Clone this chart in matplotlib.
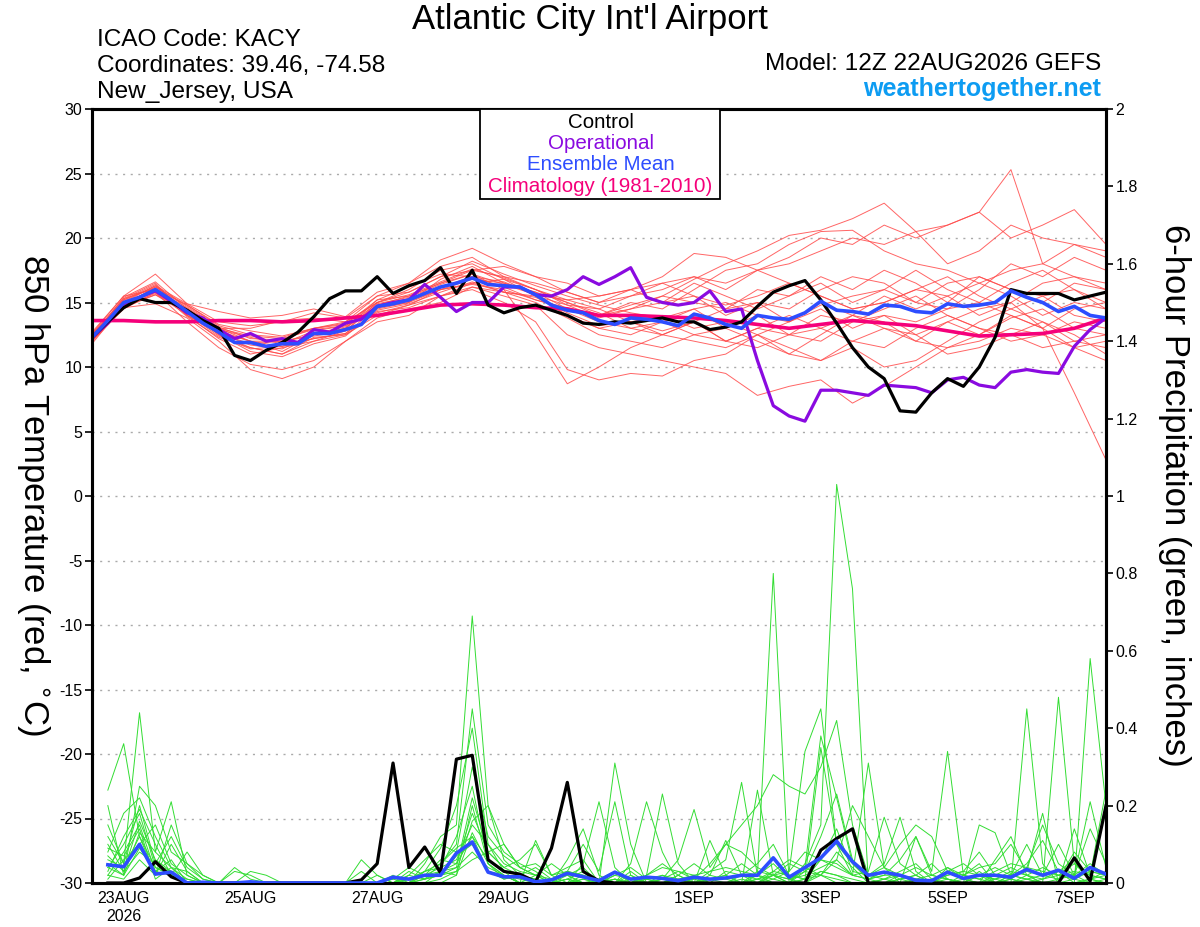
import numpy as np
import matplotlib
matplotlib.use("Agg")
from matplotlib import pyplot as plt
from matplotlib.patches import Rectangle
from matplotlib.ticker import FuncFormatter

plt.rcParams["font.family"] = ["Liberation Sans", "DejaVu Sans"]
plt.rcParams["axes.unicode_minus"] = False

# forecast hours from 12Z 22AUG2026, every 6 h
hours = np.arange(65) * 6
precip_hours = hours[1:]
member_hours = hours[::2]

date_ticks = [12, 60, 108, 156, 228, 276, 324, 372]
date_labels = ["23AUG\n2026", "25AUG", "27AUG", "29AUG", "1SEP", "3SEP", "5SEP", "7SEP"]

# 850 hPa temperature (C)
control_t = [12.3, 13.5, 14.6, 15.3, 15.0, 15.0, 14.4, 13.6, 13.0, 10.9, 10.5, 11.3, 11.9,
             12.7, 13.9, 15.3, 15.9, 15.9, 17.0, 15.7, 16.3, 16.7, 17.7, 15.7, 17.5, 14.8,
             14.2, 14.6, 14.8, 14.4, 14.0, 13.4, 13.3, 13.5, 13.4, 13.6, 13.8, 13.5, 13.5,
             12.9, 13.1, 13.5, 14.7, 15.8, 16.3, 16.7, 15.2, 13.4, 11.5, 10.0, 9.1, 6.6,
             6.5, 8.0, 9.1, 8.5, 10.0, 12.3, 16.0, 15.7, 15.7, 15.7, 15.2, 15.5, 15.8]
oper_t = [12.3, 13.4, 14.9, 15.4, 15.9, 15.1, 14.2, 13.8, 12.9, 12.2, 12.6, 12.0, 12.2,
          11.9, 12.9, 12.7, 13.4, 13.7, 14.7, 15.0, 15.2, 16.4, 15.4, 14.3, 15.0, 15.0,
          16.2, 16.2, 15.6, 15.5, 16.0, 17.0, 16.4, 17.0, 17.7, 15.4, 15.0, 14.8, 15.0,
          15.9, 14.3, 14.5, 10.5, 7.0, 6.2, 5.8, 8.2, 8.2, 8.0, 7.8, 8.6, 8.5,
          8.4, 8.0, 9.0, 9.2, 8.6, 8.4, 9.6, 9.8, 9.6, 9.5, 11.6, 12.9, 13.8]
mean_t = [12.3, 13.6, 15.0, 15.4, 16.0, 15.2, 14.3, 13.4, 12.7, 11.9, 11.9, 11.6, 11.8,
          11.8, 12.6, 12.6, 12.9, 13.3, 14.7, 14.9, 15.2, 15.7, 16.2, 16.5, 16.9, 16.4,
          16.3, 16.2, 15.6, 14.8, 14.4, 14.2, 13.6, 13.3, 13.8, 13.7, 13.5, 13.2, 14.1,
          13.8, 13.3, 13.0, 14.0, 13.8, 13.7, 14.2, 15.1, 14.4, 14.3, 14.1, 14.8, 14.7,
          14.3, 14.2, 14.9, 14.7, 14.8, 15.0, 15.9, 15.4, 15.0, 14.3, 14.7, 14.0, 13.8]
# climatology every 12 h
clim_t = [13.6, 13.6, 13.5, 13.5, 13.6, 13.6, 13.5, 13.6, 13.8, 14.0, 14.4, 14.8, 14.9,
          14.8, 14.6, 14.5, 14.0, 14.0, 13.9, 13.8, 13.6, 13.3, 13.0, 13.3, 13.6, 13.4,
          13.2, 12.8, 12.4, 12.5, 12.6, 13.0, 13.8]

# ensemble members, every 12 h
members_t = [
    [12.0, 15.2, 16.4, 14.0, 12.2, 11.0, 11.5, 12.0, 12.8, 15.0, 16.0, 17.5, 18.0, 16.8, 16.0, 15.2, 14.5,
     15.5, 16.5, 17.0, 16.0, 17.5, 18.5, 20.0, 19.5, 21.0, 20.0, 21.0, 22.0, 25.3, 18.0, 19.5, 18.5],
    [12.5, 14.8, 16.2, 14.8, 13.2, 12.5, 12.3, 13.0, 13.5, 15.5, 16.5, 17.8, 18.5, 17.0, 16.0, 15.0, 14.0,
     14.5, 15.5, 16.8, 18.0, 19.0, 20.2, 20.6, 21.5, 22.7, 20.5, 18.0, 19.0, 21.0, 20.0, 19.5, 19.0],
    [12.2, 15.0, 15.8, 14.5, 12.5, 11.5, 11.0, 12.3, 12.5, 14.2, 14.8, 15.5, 16.5, 15.8, 15.5, 14.0, 13.0,
     13.5, 12.5, 13.5, 12.0, 13.0, 12.5, 14.0, 13.5, 14.0, 13.5, 14.5, 15.0, 14.0, 13.0, 8.0, 2.8],
    [12.0, 14.6, 14.9, 13.8, 12.0, 9.8, 9.1, 10.0, 12.0, 13.8, 14.5, 15.0, 16.2, 15.5, 14.8, 12.5, 11.5,
     11.0, 10.5, 10.0, 9.5, 7.8, 8.5, 9.0, 7.2, 8.5, 10.0, 11.5, 12.0, 13.0, 12.5, 11.5, 10.5],
    [12.4, 15.3, 16.5, 14.0, 12.8, 12.0, 11.2, 12.5, 13.0, 15.2, 15.5, 16.5, 17.2, 16.0, 12.5, 8.7, 10.0,
     11.5, 12.5, 13.5, 14.5, 15.0, 13.5, 14.8, 15.5, 16.0, 15.0, 16.5, 17.0, 16.0, 15.5, 14.0, 13.5],
    [12.6, 15.5, 16.0, 14.6, 13.0, 13.0, 13.6, 13.8, 13.5, 15.0, 15.8, 17.0, 17.5, 17.0, 16.5, 15.8, 15.0,
     15.5, 16.0, 17.0, 16.5, 17.5, 18.0, 19.0, 20.0, 19.5, 20.5, 21.0, 22.0, 20.0, 21.0, 22.2, 19.5],
    [12.1, 14.9, 16.0, 14.2, 12.6, 11.8, 12.0, 12.5, 13.0, 14.8, 15.5, 16.5, 17.5, 17.8, 17.0, 16.5, 15.5,
     16.0, 17.0, 18.8, 18.5, 17.5, 16.5, 15.5, 14.5, 15.0, 16.0, 15.5, 14.0, 15.0, 16.5, 17.0, 16.5],
    [12.3, 14.7, 15.6, 14.4, 12.9, 12.3, 11.8, 12.8, 13.2, 14.5, 15.0, 16.8, 17.8, 16.5, 15.8, 14.5, 14.0,
     15.0, 14.5, 16.0, 17.5, 18.0, 19.5, 20.5, 20.6, 19.0, 18.0, 17.5, 16.5, 17.5, 18.0, 17.0, 16.0],
    [12.0, 14.5, 15.8, 13.5, 11.5, 10.2, 9.8, 10.5, 12.0, 13.5, 14.0, 15.5, 16.0, 15.0, 13.5, 9.8, 9.0,
     9.5, 9.3, 10.5, 11.0, 12.5, 11.5, 10.5, 12.0, 13.0, 12.5, 11.0, 11.5, 12.5, 11.5, 12.0, 12.5],
    [12.5, 15.1, 16.3, 14.9, 13.5, 13.2, 13.5, 14.2, 13.8, 15.5, 15.8, 17.0, 18.2, 17.2, 16.3, 15.5, 14.8,
     14.2, 13.8, 14.5, 13.0, 14.0, 13.5, 14.5, 13.0, 14.0, 12.5, 13.5, 12.5, 13.8, 14.5, 13.0, 12.5],
    [11.8, 14.8, 16.0, 13.9, 12.3, 11.5, 11.0, 12.0, 12.5, 14.0, 14.8, 16.0, 16.5, 16.8, 15.5, 14.8, 14.5,
     13.5, 12.8, 13.5, 12.0, 11.5, 12.5, 13.0, 14.0, 13.5, 12.0, 11.5, 12.5, 14.0, 13.0, 14.5, 15.0],
    [12.3, 15.4, 16.6, 14.5, 13.0, 12.0, 11.6, 12.2, 12.6, 14.6, 15.0, 16.0, 16.8, 16.5, 15.8, 15.0, 14.2,
     13.0, 12.5, 12.0, 11.5, 12.5, 11.0, 10.5, 11.5, 10.0, 10.5, 12.0, 13.5, 14.5, 13.5, 12.0, 11.5],
    [12.6, 15.0, 16.0, 14.8, 13.3, 12.8, 12.4, 13.0, 13.3, 15.2, 16.2, 17.2, 17.0, 16.2, 15.2, 14.6, 14.0,
     14.8, 15.5, 15.0, 14.5, 16.0, 15.5, 16.5, 15.0, 16.0, 17.5, 16.0, 15.0, 16.5, 17.5, 16.0, 14.5],
    [12.0, 14.6, 15.6, 14.1, 12.4, 11.4, 11.6, 12.2, 12.6, 14.3, 14.6, 15.5, 16.2, 15.8, 15.4, 14.2, 13.2,
     13.5, 14.0, 13.0, 13.5, 12.5, 13.5, 15.0, 14.0, 15.5, 14.5, 15.5, 16.5, 15.5, 14.0, 15.0, 14.5],
    [12.2, 14.9, 15.9, 14.0, 12.7, 12.0, 12.0, 12.4, 12.8, 14.8, 15.3, 16.2, 17.0, 16.6, 15.6, 14.0, 13.0,
     12.5, 13.5, 14.5, 15.0, 14.0, 12.5, 12.0, 13.5, 14.5, 15.5, 14.0, 13.0, 12.0, 12.5, 13.5, 13.0],
    [12.4, 15.2, 16.2, 14.7, 13.1, 12.2, 12.1, 13.0, 13.4, 15.0, 15.6, 16.6, 17.6, 16.9, 16.0, 14.8, 13.8,
     14.5, 15.0, 15.5, 14.0, 15.0, 14.5, 16.0, 17.0, 16.5, 15.0, 14.5, 16.0, 18.0, 17.0, 18.5, 17.5],
    [12.1, 14.7, 15.7, 14.3, 12.5, 11.2, 10.8, 11.8, 12.4, 14.4, 14.9, 15.8, 16.6, 15.8, 15.0, 13.8, 12.5,
     12.0, 11.5, 12.5, 12.0, 13.0, 14.0, 13.0, 12.0, 11.5, 13.0, 14.0, 13.0, 12.5, 13.5, 12.5, 11.0],
    [12.5, 15.3, 16.1, 14.4, 13.0, 12.4, 12.2, 12.9, 13.2, 14.9, 15.4, 16.4, 17.2, 16.4, 15.6, 15.2, 15.5,
     16.0, 16.5, 15.5, 14.8, 15.5, 16.5, 15.5, 14.5, 15.0, 16.0, 17.0, 15.5, 14.5, 15.5, 16.0, 15.0],
    [12.3, 15.0, 16.3, 14.2, 12.6, 11.7, 11.4, 12.6, 13.1, 14.6, 15.1, 16.0, 16.4, 16.0, 15.2, 14.5, 13.5,
     13.0, 13.5, 12.5, 13.0, 12.0, 11.0, 12.5, 14.0, 13.0, 12.0, 13.5, 14.5, 15.0, 13.0, 11.5, 12.0],
    [12.7, 15.5, 17.2, 14.9, 14.3, 13.8, 14.0, 14.5, 13.9, 15.8, 16.5, 18.3, 19.2, 18.0, 17.0, 15.8, 15.0,
     16.0, 15.0, 16.5, 15.5, 14.5, 15.5, 17.0, 16.0, 17.5, 16.5, 15.0, 17.0, 16.0, 15.0, 16.5, 16.0],
]

# 6-hour precipitation (inches), from 18Z 22AUG
control_p = [0, 0, .013, .055, .016, 0, 0, 0, 0, 0, 0, 0, 0, 0, 0, 0,
             .008, .05, .31, .04, .093, .026, .32, .33, .06, .03, .023, .003, .09, .26, .03, .005,
             0, 0, 0, 0, 0, 0, 0, 0, 0, 0, 0, 0, 0, .085, .115, .14,
             0, 0, 0, 0, 0, 0, 0, 0, 0, 0, 0, 0, 0, .065, .005, .2]
mean_p = [.047, .042, .10, .023, .028, 0, .002, 0, 0, .003, 0, 0, 0, 0, 0, 0,
          0, 0, .015, .01, .02, .02, .077, .106, .028, .016, .016, .003, .008, .025, .016, .006,
          .028, .01, .015, .012, .006, .015, .01, .013, .02, .02, .065, .015, .04, .065, .108, .055,
          .02, .028, .02, .007, .006, .028, .012, .02, .02, .015, .035, .02, .033, .012, .04, .023]

members_p = [
    [.24, .36, .12, .04, .02, 0, 0, 0, 0, 0, 0, 0, 0, 0, 0, 0,
     0, 0, .02, 0, .05, .12, .15, .69, .2, .06, .02, 0, 0, .03, .02, 0,
     .31, .1, 0, 0, .02, 0, 0, 0, 0, .02, 0, 0, .05, .15, 1.03, .76,
     0, 0, .02, 0, 0, 0, 0, .03, 0, 0, .45, .05, 0, 0, .58, .2],
    [.15, .05, .44, .08, .21, .02, 0, 0, .04, .01, 0, 0, 0, 0, 0, 0,
     .06, .02, 0, .03, .01, .05, .1, .45, .15, .08, .05, .03, 0, .06, .14, .02,
     0, .05, .21, .08, 0, 0, .03, .06, .26, .02, .8, 0, .03, .06, .05, .02,
     .31, .04, 0, .12, .02, .01, 0, .15, .13, .02, .03, .18, 0, .14, .02, .24],
    [.08, .18, .22, .12, .04, .03, 0, 0, 0, .03, .02, 0, 0, 0, 0, 0,
     0, 0, .01, 0, .03, .09, .2, .4, .1, .03, 0, .11, .02, 0, .05, .21,
     .04, 0, .02, .23, .05, 0, .11, .02, 0, .24, .02, .03, .34, .45, .1, .02,
     .03, .17, .05, .02, 0, .04, .01, 0, .06, .12, .02, 0, .48, .05, .01, .03],
    [.05, .02, .25, .2, .08, .05, .01, 0, 0, 0, 0, 0, 0, 0, 0, 0,
     0, 0, 0, .02, .06, .1, .08, .3, .12, .07, .04, .02, .01, .03, .1, .03,
     .21, .02, 0, .01, .06, .19, .04, .1, .15, .2, .28, .25, .23, .3, .42, .15,
     .02, .05, .17, .03, 0, .02, .03, .02, 0, .01, .04, .15, .05, .02, .21, .04],
    [.1, .03, .16, .06, .03, 0, 0, 0, 0, 0, 0, 0, 0, 0, 0, 0,
     0, 0, .01, .04, .02, .06, .05, .18, .08, .1, .04, .05, .02, .04, .06, 0,
     .02, .04, .01, 0, .02, .05, .02, .11, .02, 0, .03, .06, .04, .38, .22, .05,
     .01, .02, .06, .12, .03, .34, .02, .05, 0, .02, .1, .02, .03, .06, .01, .02],
    [.03, .12, .19, .1, .02, .01, 0, 0, 0, 0, 0, 0, 0, 0, 0, 0,
     0, 0, 0, .01, .03, .04, .12, .25, .05, .02, 0, .02, .05, .02, 0, .01,
     .03, 0, .02, .04, .03, .02, 0, 0, .02, .05, .1, .02, .01, .35, .1, .05,
     .01, .03, .01, .02, .05, .01, 0, .02, .04, .02, .01, .02, .1, .02, .14, .05],
    [.02, .08, .15, .03, .06, 0, 0, 0, 0, 0, 0, 0, 0, 0, 0, 0,
     0, 0, 0, .02, .01, .03, .05, .12, .06, .03, .02, .04, .01, .02, 0, 0,
     0, .03, 0, 0, .01, .02, .03, .04, .03, .02, .05, .01, .03, .02, .06, .2,
     .12, .04, .02, .01, 0, .03, .05, .02, .01, .02, .05, .11, .03, .02, .05, .02],
    [.06, .04, .12, .02, .1, .03, 0, 0, 0, 0, 0, 0, 0, 0, 0, 0,
     0, 0, 0, 0, .02, .02, .07, .1, .03, .01, .02, .01, 0, .01, .03, 0,
     .01, 0, .02, .05, .02, 0, .01, .02, .05, .02, .01, .03, .08, .06, .14, .03,
     .02, .01, .03, .05, .01, .02, .03, .08, .02, .04, .02, .01, .02, .03, .02, .01],
    [.12, .05, .2, .05, .03, 0, 0, 0, 0, 0, 0, 0, 0, 0, 0, 0,
     0, 0, 0, .01, .02, .03, .04, .08, .04, .02, .01, 0, 0, .02, .04, 0,
     0, .02, 0, .01, .03, .01, 0, .03, .02, .01, .02, .05, .03, .12, .23, .06,
     .02, .04, .1, .15, .12, .03, .02, .04, .05, .1, .03, .02, .01, .08, .03, .02],
    [.04, .1, .18, .04, .02, 0, 0, 0, 0, 0, 0, 0, 0, 0, 0, 0,
     0, .02, 0, 0, .01, .02, .03, .06, .08, .04, .02, .01, 0, 0, .02, 0,
     .01, 0, .01, .02, 0, .01, .05, .1, .08, .04, .02, .01, .02, .04, .06, .02,
     .01, .02, .02, .01, .02, .04, .02, .01, .03, .05, .04, .03, .02, .01, .03, .02],
    [.2, .02, .13, .08, .04, 0, 0, 0, .03, .02, 0, 0, 0, 0, 0, 0,
     0, 0, 0, 0, .02, .04, .06, .15, .1, .05, .03, .02, 0, .01, 0, 0,
     .02, .01, 0, .02, .01, 0, .02, .01, 0, .03, .02, 0, .04, .02, .08, .04,
     0, .01, .02, .04, .02, .01, 0, .02, .01, .03, .02, .04, .02, .05, .02, .01],
    [.01, .06, .1, .15, .05, .02, 0, 0, 0, 0, 0, 0, 0, 0, 0, 0,
     0, 0, 0, 0, 0, .03, .02, .2, .05, .02, 0, 0, 0, 0, .01, 0,
     0, 0, .01, 0, 0, .02, 0, 0, .01, 0, .02, .01, 0, .03, .02, .01,
     0, 0, .01, .02, 0, 0, .02, .01, 0, .02, .01, 0, .01, .02, 0, .01],
    [.07, .03, .08, .05, .12, .04, .01, 0, 0, 0, 0, 0, 0, 0, 0, 0,
     .03, 0, 0, 0, .01, .02, .04, .22, .08, .04, .06, .1, .02, .03, .02, .01,
     0, .01, 0, 0, .01, 0, 0, 0, 0, .01, .03, .02, .01, .06, .04, .02,
     .01, 0, 0, .01, 0, 0, .01, 0, .02, .01, 0, .01, .03, 0, .01, 0],
    [.02, .01, .06, .02, .15, .05, .02, 0, 0, 0, 0, 0, 0, 0, 0, 0,
     0, 0, 0, 0, 0, .01, .03, .16, .2, .1, .04, .02, 0, 0, .01, 0,
     .01, 0, 0, .01, 0, 0, .01, .02, 0, 0, .01, 0, 0, .02, .01, 0,
     0, .01, 0, 0, 0, .01, 0, 0, .01, 0, .02, 0, 0, .01, 0, 0],
    [.04, .02, .09, .03, .02, .08, .02, 0, 0, 0, 0, 0, 0, 0, 0, 0,
     0, 0, 0, 0, 0, 0, .02, .13, .05, .01, .02, 0, 0, 0, 0, 0,
     0, 0, 0, 0, 0, 0, 0, 0, 0, .01, 0, 0, .01, .02, 0, 0,
     0, 0, 0, 0, .01, 0, 0, 0, 0, 0, .01, 0, 0, 0, 0, 0],
    [.09, .07, .14, .01, .04, .01, 0, 0, 0, 0, 0, 0, 0, 0, 0, 0,
     0, 0, 0, .01, .03, .05, .09, .12, .03, .02, 0, 0, 0, .01, 0, 0,
     0, 0, 0, 0, 0, 0, .01, 0, 0, 0, .02, 0, .01, .03, .02, 0,
     0, 0, .01, 0, 0, 0, 0, 0, 0, .01, 0, 0, 0, 0, .01, 0],
]

RED = "#ff4a4a"
GREEN = "#33dd33"
PURPLE = "#8a0ae0"
BLUE = "#2d4dff"
PINK = "#f5007a"

fig = plt.figure(figsize=(12, 9.27), dpi=100)
ax = fig.add_axes([92 / 1200, 1 - 883 / 927, 1014 / 1200, 774 / 927])
ax2 = ax.twinx()

# temperature (left axis)
for m in members_t:
    ax.plot(member_hours, m, color=RED, lw=0.7, alpha=0.85, zorder=2)
ax.plot(member_hours, clim_t, color=PINK, lw=2.6, zorder=3)
ax.plot(hours, oper_t, color=PURPLE, lw=2.3, zorder=4)
ax.plot(hours, control_t, color="black", lw=2.3, zorder=5)
ax.plot(hours, mean_t, color=BLUE, lw=2.6, zorder=6)

# precipitation (right axis)
for m in members_p:
    ax2.plot(precip_hours, m, color=GREEN, lw=0.7, zorder=2)
ax2.plot(precip_hours, control_p, color="black", lw=2.3, zorder=5)
ax2.plot(precip_hours, mean_p, color=BLUE, lw=2.6, zorder=6)

ax.set_xlim(0, 384)
ax.set_ylim(-30, 30)
ax2.set_ylim(0, 2)
ax.set_yticks(range(-30, 31, 5))
ax2.set_yticks(np.arange(0, 2.01, 0.2))
ax2.yaxis.set_major_formatter(FuncFormatter(lambda v, p: "%g" % round(v, 1)))
ax.set_xticks(date_ticks)
ax.set_xticklabels(date_labels, fontsize=11.5)
ax.tick_params(axis="x", length=0, pad=6)
ax.tick_params(axis="y", direction="out", length=5, width=1.2, labelsize=11.5, pad=2)
ax2.tick_params(axis="y", direction="out", length=5, width=1.2, labelsize=11.5, pad=2)
ax.grid(axis="y", color="#aaaaaa", linestyle=(0, (1.5, 4)), lw=1)
ax.set_axisbelow(True)

for a in (ax, ax2):
    for s in a.spines.values():
        s.set_linewidth(2.2)

# legend box
ax2.add_patch(Rectangle((0.3826, 0.884), 0.2367, 0.116, transform=ax2.transAxes,
                        facecolor="white", edgecolor="black", lw=1.3, zorder=10))
legend_items = [("Control", "black"), ("Operational", PURPLE),
                ("Ensemble Mean", BLUE), ("Climatology (1981-2010)", PINK)]
for k, (txt, col) in enumerate(legend_items):
    ax2.text(0.5015, 0.983 - k * 0.0275, txt, color=col, fontsize=14.8, ha="center",
             va="center", transform=ax2.transAxes, zorder=11)

# header
fig.text(590 / 1200, 1 - 19 / 927, "Atlantic City Int'l Airport", fontsize=25,
         ha="center", va="center")
fig.text(97 / 1200, 1 - 40 / 927, "ICAO Code: KACY", fontsize=17.6, va="center")
fig.text(97 / 1200, 1 - 66 / 927, "Coordinates: 39.46, -74.58", fontsize=17.6, va="center")
fig.text(97 / 1200, 1 - 92 / 927, "New_Jersey, USA", fontsize=17.6, va="center")
fig.text(1101 / 1200, 1 - 64 / 927, "Model: 12Z 22AUG2026 GEFS", fontsize=17.6,
         ha="right", va="center")
fig.text(1101 / 1200, 1 - 89 / 927, "weathertogether.net", fontsize=18, fontweight="bold",
         color="#0d9cf2", ha="right", va="center")

fig.text(33 / 1200, 1 - 495 / 927, "850 hPa Temperature (red, $^{\\circ}$C)", fontsize=25,
         rotation=270, ha="center", va="center")
fig.text(1175 / 1200, 1 - 495 / 927, "6-hour Precipitation (green, inches)", fontsize=25,
         rotation=270, ha="center", va="center")

fig.savefig("out.png", dpi=100)
